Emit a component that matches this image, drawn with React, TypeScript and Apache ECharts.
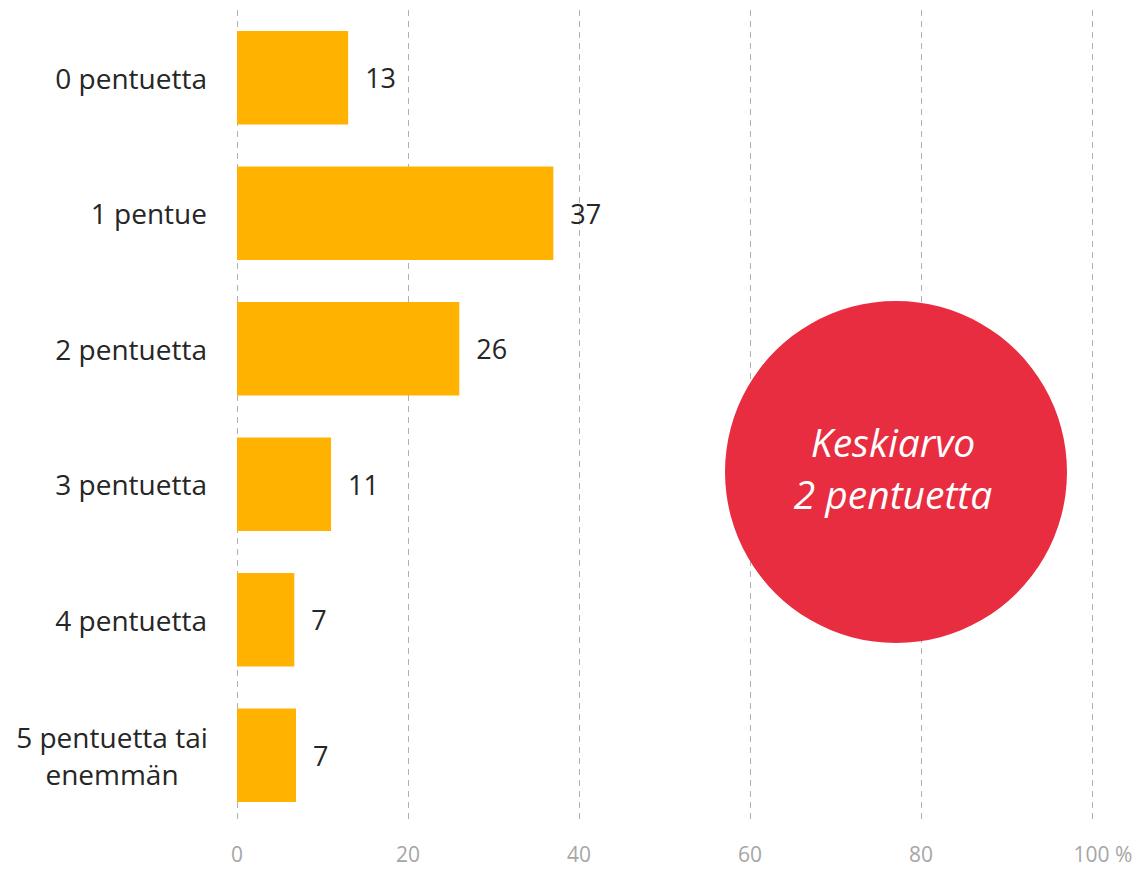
import React, { useEffect, useRef } from "react";
import * as echarts from "echarts";

const categories = ["0 pentuetta", "1 pentue", "2 pentuetta", "3 pentuetta", "4 pentuetta", "5 pentuetta tai\nenemmän"];
const values = [13, 37, 26, 11, 6.7, 6.9];
const xTicks = [0, 20, 40, 60, 80, 100];
const calloutLines = ["Keskiarvo", "2 pentuetta"];

const FONT = "'Open Sans', 'Noto Sans', sans-serif";

export default function App() {
  const ref = useRef<HTMLDivElement>(null);
  useEffect(() => {
    if (!ref.current) return;
    const chart = echarts.init(ref.current, undefined, { renderer: "svg" });
    chart.setOption({
      animation: false,
      backgroundColor: "#ffffff",
      grid: { left: 237, right: 46, top: 10, bottom: 47, containLabel: false },
      xAxis: {
        type: "value",
        min: xTicks[0],
        max: xTicks[xTicks.length - 1],
        interval: 20,
        axisLine: { show: false },
        axisTick: { show: false },
        splitLine: { show: true, lineStyle: { color: "#b0b0b0", type: [6, 5], width: 1 } },
        axisLabel: {
          color: "#a6a6a6",
          fontSize: 21,
          lineHeight: 21,
          fontFamily: FONT,
          margin: 20,
          formatter: (v: number) => (v === 100 ? "{pad|}100 %" : String(v)),
          rich: { pad: { width: 22 } },
        },
      },
      yAxis: {
        type: "category",
        data: categories,
        inverse: true,
        axisLine: { show: false },
        axisTick: { show: false },
        splitLine: { show: false },
        axisLabel: {
          color: "#262626",
          fontSize: 28,
          fontFamily: FONT,
          margin: 30,
          align: "right",
          lineHeight: 37,
          formatter: (v: string) => {
            if (v.indexOf("\n") >= 0) {
              return v.split("\n").map((s) => "{c|" + s + "}").join("\n");
            }
            return v;
          },
          rich: {
            c: { width: 190, align: "center", fontSize: 28, fontFamily: FONT, color: "#262626", lineHeight: 37 },
          },
        },
      },
      series: [
        {
          type: "bar",
          data: values,
          barCategoryGap: "31%",
          itemStyle: { color: "#FFB300" },
          label: {
            show: true,
            position: "right",
            distance: 17,
            color: "#262626",
            fontSize: 27,
            fontFamily: FONT,
            formatter: (p: any) => String(Math.round(p.value)),
          },
        },
      ],
      graphic: [
        {
          type: "circle",
          shape: { cx: 896, cy: 472, r: 171 },
          style: { fill: "#E7263B", opacity: 0.97 },
          z: 100,
        },
        {
          type: "text",
          x: 893,
          y: 467,
          z: 101,
          style: {
            text: calloutLines.join("\n"),
            fill: "#ffffff",
            fontSize: 39,
            fontStyle: "italic",
            fontFamily: FONT,
            align: "center",
            verticalAlign: "middle",
            lineHeight: 52,
          },
        },
      ],
    });
    return () => chart.dispose();
  }, []);
  return <div ref={ref} style={{ position: "absolute", left: 0, top: 0, width: 1138, height: 870 }} />;
}
